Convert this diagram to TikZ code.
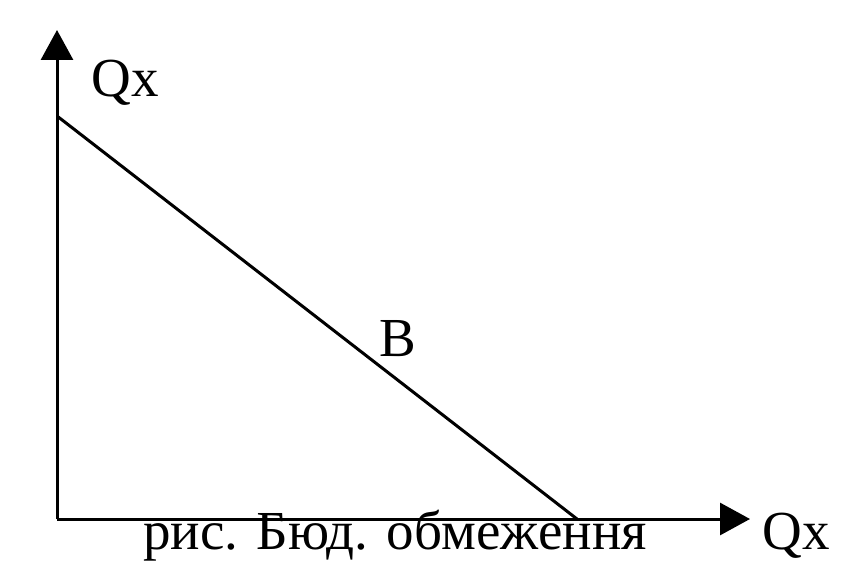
\documentclass[tikz,border=0pt]{standalone}
\usepackage{fontspec}
\setmainfont{Liberation Serif}
\usetikzlibrary{arrows.meta}
\begin{document}
\begin{tikzpicture}[x=1pt,y=-1pt,
  axis/.style={line width=3pt,-{Triangle[length=30pt,width=32pt]}},
  budget/.style={line width=3pt},
  lbl/.style={anchor=base,inner sep=0pt,font=\fontsize{55}{60}\selectfont}]
\useasboundingbox (0,0) rectangle (866,577);
\coordinate (O) at (57,519);
\coordinate (ytop) at (57,30);
\coordinate (xend) at (750,519);
\coordinate (A) at (57,116);
\coordinate (C) at (577,519);
\draw[axis] (O) -- (ytop);
\draw[axis] (O) -- (xend);
\draw[budget] (A) -- (C);
\node[lbl] (qy) at (125,97) {Qx};
\node[lbl] (qx) at (796,549) {Qx};
\node[lbl] (b) at (398,356) {B};
\node[lbl] (cap) at (395,549) {рис. Бюд. обмеження};
\end{tikzpicture}
\end{document}
